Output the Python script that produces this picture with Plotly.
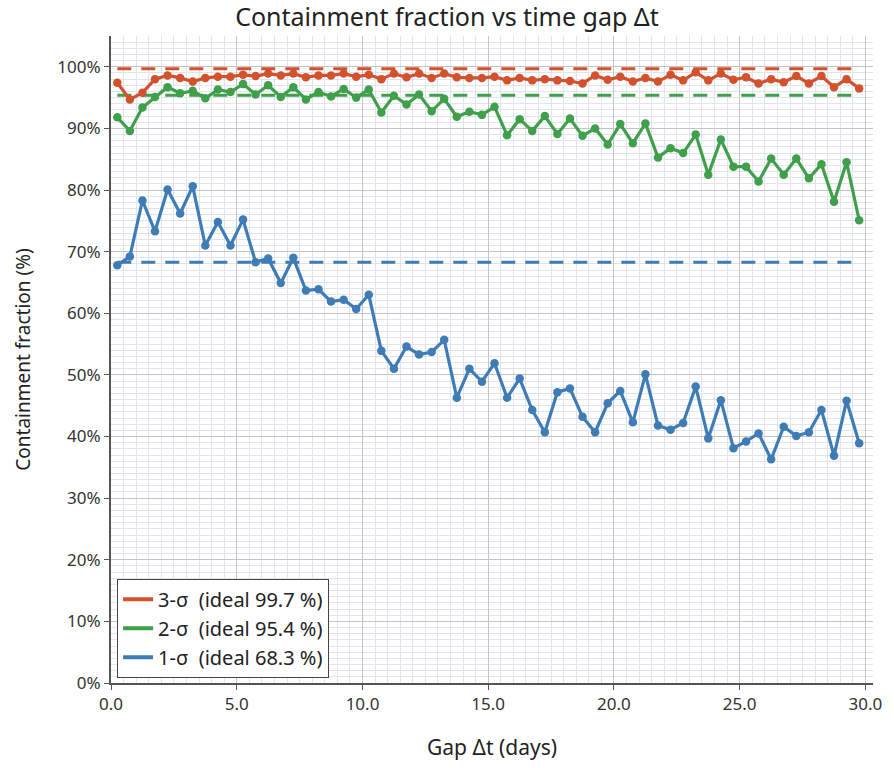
import plotly.graph_objects as go

# Gap centres (days)
gap_days = [0.25, 0.75, 1.25, 1.75, 2.25, 2.75, 3.25, 3.75, 4.25, 4.75,
            5.25, 5.75, 6.25, 6.75, 7.25, 7.75, 8.25, 8.75, 9.25, 9.75,
            10.25, 10.75, 11.25, 11.75, 12.25, 12.75, 13.25, 13.75, 14.25, 14.75,
            15.25, 15.75, 16.25, 16.75, 17.25, 17.75, 18.25, 18.75, 19.25, 19.75,
            20.25, 20.75, 21.25, 21.75, 22.25, 22.75, 23.25, 23.75, 24.25, 24.75,
            25.25, 25.75, 26.25, 26.75, 27.25, 27.75, 28.25, 28.75, 29.25, 29.75]

# Containment fraction (%) per sigma level
frac_3sigma = [97.4, 94.7, 95.8, 98.0, 98.6, 98.2, 97.6, 98.2, 98.4, 98.4,
               98.7, 98.5, 98.9, 98.6, 98.9, 98.3, 98.6, 98.6, 98.9, 98.4,
               98.7, 98.0, 98.9, 98.3, 98.9, 98.2, 98.9, 98.3, 98.2, 98.2,
               98.4, 97.8, 98.2, 97.8, 98.0, 97.8, 97.7, 97.3, 98.6, 97.9,
               98.4, 97.6, 98.2, 97.6, 98.7, 97.8, 99.1, 97.8, 98.9, 97.9,
               98.3, 97.3, 98.0, 97.5, 98.5, 97.3, 98.5, 96.7, 98.0, 96.5]

frac_2sigma = [91.8, 89.6, 93.4, 95.1, 96.7, 95.7, 96.1, 94.9, 96.3, 95.9,
               97.2, 95.5, 97.0, 95.1, 96.7, 94.7, 95.9, 95.2, 96.4, 95.0,
               96.3, 92.6, 95.3, 93.9, 95.5, 92.8, 94.8, 91.9, 92.7, 92.2,
               93.5, 88.9, 91.5, 89.6, 92.0, 89.1, 91.6, 88.8, 90.0, 87.4,
               90.7, 87.6, 90.8, 85.3, 86.8, 86.0, 89.0, 82.5, 88.2, 83.8,
               83.8, 81.4, 85.1, 82.5, 85.1, 81.9, 84.2, 78.1, 84.5, 75.1]

frac_1sigma = [67.8, 69.2, 78.3, 73.3, 80.1, 76.2, 80.6, 71.0, 74.8, 71.0,
               75.2, 68.3, 68.9, 64.9, 69.0, 63.7, 63.9, 61.9, 62.2, 60.7,
               63.0, 53.9, 51.0, 54.6, 53.3, 53.7, 55.7, 46.3, 51.0, 48.9,
               51.9, 46.3, 49.4, 44.3, 40.7, 47.2, 47.8, 43.2, 40.7, 45.4,
               47.4, 42.3, 50.1, 41.8, 41.1, 42.2, 48.1, 39.7, 45.9, 38.1,
               39.2, 40.5, 36.3, 41.6, 40.1, 40.7, 44.3, 36.9, 45.8, 38.9]

# Ideal Gaussian containment levels (%)
ideal_levels = [99.7, 95.4, 68.3]
sigma_names = ["3-σ", "2-σ", "1-σ"]
series = [frac_3sigma, frac_2sigma, frac_1sigma]
colors = ["#d2522e", "#3f9f4a", "#3f7cb6"]

FONT = "Noto Sans, Open Sans, DejaVu Sans, sans-serif"

fig = go.Figure()

# draw 1-σ first so the higher levels sit on top
for name, vals, ideal, col in reversed(list(zip(sigma_names, series, ideal_levels, colors))):
    fig.add_trace(go.Scatter(
        x=[gap_days[0], gap_days[-1]], y=[ideal, ideal],
        mode="lines", line=dict(color=col, width=3, dash="14px,10px"),
        showlegend=False, hoverinfo="skip"))
    fig.add_trace(go.Scatter(
        x=gap_days, y=vals, mode="lines+markers",
        line=dict(color=col, width=3.2), marker=dict(color=col, size=8.5),
        name=name, showlegend=False))

# legend entries (line swatches only)
for name, ideal, col in zip(sigma_names, ideal_levels, colors):
    fig.add_trace(go.Scatter(
        x=[None], y=[None], mode="lines",
        line=dict(color=col, width=4),
        name=f"{name}  (ideal {ideal} %)"))

fig.update_layout(
    width=894, height=768,
    margin=dict(l=111, r=14, t=36, b=81),
    paper_bgcolor="white", plot_bgcolor="white",
    font=dict(family=FONT, size=17, color="#333333"),
    title=dict(text="Containment fraction vs time gap Δt", x=0.5, xanchor="center",
               y=0.978, yanchor="middle", font=dict(size=25, color="#222222")),
    legend=dict(x=0.008, y=0.008, xanchor="left", yanchor="bottom",
                bgcolor="white", bordercolor="#444444", borderwidth=1,
                font=dict(size=20, color="#222222"), traceorder="normal"),
    showlegend=True,
)

fig.update_xaxes(
    range=[0, 30.3], dtick=5, tick0=0, tickformat=".1f",
    showline=True, linecolor="#555555", linewidth=2,
    ticks="outside", ticklen=5, tickcolor="#555555",
    showgrid=True, gridcolor="#c4c4c8", gridwidth=1, zeroline=False,
    minor=dict(dtick=0.5, showgrid=True, gridcolor="#e0e4ee", gridwidth=1),
    title=dict(text="Gap Δt (days)", font=dict(size=21, color="#222222"), standoff=26),
    tickfont=dict(size=17, color="#333333"),
)
fig.update_yaxes(
    range=[0, 105], dtick=10, tick0=0, ticksuffix="%",
    showline=True, linecolor="#555555", linewidth=2,
    ticks="outside", ticklen=5, tickcolor="#555555",
    showgrid=True, gridcolor="#c4c4c8", gridwidth=1, zeroline=False,
    minor=dict(dtick=1, showgrid=True, gridcolor="#e0e4ee", gridwidth=1),
    title=dict(text="Containment fraction (%)", font=dict(size=19, color="#222222"), standoff=22),
    tickfont=dict(size=17, color="#333333"),
)

fig.write_html("out.html")
